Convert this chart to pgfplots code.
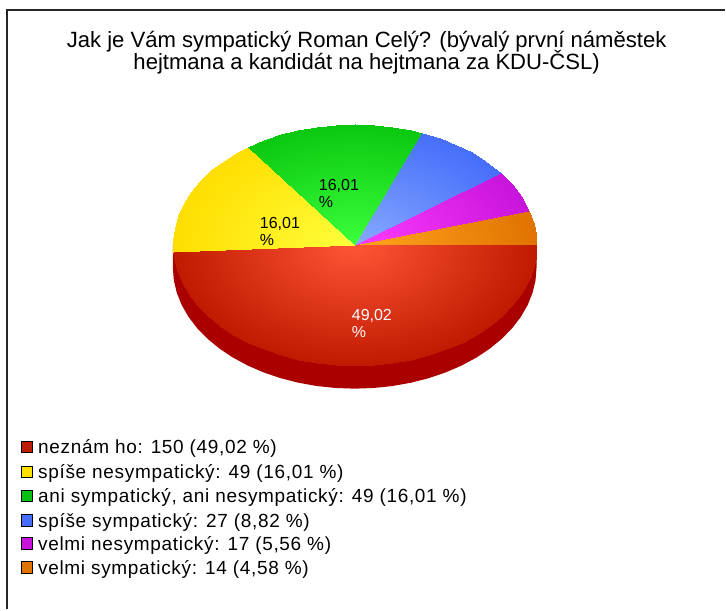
\documentclass[border=0pt]{standalone}
\usepackage{fontspec}
\setmainfont{Liberation Sans}
\usepackage{pgfplots}
\usepackage{pgfplotstable}
\pgfplotsset{compat=1.18}

% slice boundaries: a = angle clockwise from east (share * 3.6), r = 0 centre, 1 rim
\pgfplotstableread[row sep=\\]{a r\\
0 0\\0 1\\6 0\\6 1\\12 0\\12 1\\18 0\\18 1\\24 0\\24 1\\30 0\\30 1\\36 0\\36 1\\42 0\\42 1\\
48 0\\48 1\\54 0\\54 1\\60 0\\60 1\\66 0\\66 1\\72 0\\72 1\\78 0\\78 1\\84 0\\84 1\\90 0\\90 1\\
96 0\\96 1\\102 0\\102 1\\108 0\\108 1\\114 0\\114 1\\120 0\\120 1\\126 0\\126 1\\132 0\\132 1\\
138 0\\138 1\\144 0\\144 1\\150 0\\150 1\\156 0\\156 1\\162 0\\162 1\\168 0\\168 1\\174 0\\174 1\\
176.5 0\\176.5 1\\}\neznam
\pgfplotstableread[row sep=\\]{a r\\
176.5 0\\176.5 1\\182 0\\182 1\\188 0\\188 1\\194 0\\194 1\\200 0\\200 1\\206 0\\206 1\\212 0\\212 1\\
218 0\\218 1\\224 0\\224 1\\230 0\\230 1\\234.1 0\\234.1 1\\}\spisene
\pgfplotstableread[row sep=\\]{a r\\
234.1 0\\234.1 1\\240 0\\240 1\\246 0\\246 1\\252 0\\252 1\\258 0\\258 1\\264 0\\264 1\\270 0\\270 1\\
276 0\\276 1\\282 0\\282 1\\288 0\\288 1\\291.8 0\\291.8 1\\}\ani
\pgfplotstableread[row sep=\\]{a r\\
291.8 0\\291.8 1\\298 0\\298 1\\304 0\\304 1\\310 0\\310 1\\316 0\\316 1\\323.6 0\\323.6 1\\}\spise
\pgfplotstableread[row sep=\\]{a r\\
323.6 0\\323.6 1\\330 0\\330 1\\336 0\\336 1\\343.6 0\\343.6 1\\}\velmine
\pgfplotstableread[row sep=\\]{a r\\
343.6 0\\343.6 1\\350 0\\350 1\\355 0\\355 1\\360 0\\360 1\\}\velmi
% side wall, d = 1 lower edge
\pgfplotstableread[row sep=\\]{a d\\
0 0\\0 1\\6 1\\12 1\\18 1\\24 1\\30 1\\36 1\\42 1\\48 1\\54 1\\60 1\\66 1\\72 1\\78 1\\84 1\\90 1\\
96 1\\102 1\\108 1\\114 1\\120 1\\126 1\\132 1\\138 1\\144 1\\150 1\\156 1\\162 1\\168 1\\174 1\\180 1\\180 0\\}\wall

\definecolor{lred}{RGB}{190,28,0}
\definecolor{lyel}{RGB}{255,225,0}
\definecolor{lgrn}{RGB}{10,190,20}
\definecolor{lblu}{RGB}{70,110,250}
\definecolor{lmag}{RGB}{200,20,220}
\definecolor{lorg}{RGB}{225,115,0}

\pgfplotsset{
  colormap={cred}{rgb255=(255,85,55) rgb255=(192,26,0)},
  colormap={cyel}{rgb255=(255,255,60) rgb255=(255,222,0)},
  colormap={cgrn}{rgb255=(60,255,60) rgb255=(10,200,15)},
  colormap={cblu}{rgb255=(135,170,255) rgb255=(70,110,250)},
  colormap={cmag}{rgb255=(255,60,255) rgb255=(200,20,220)},
  colormap={corg}{rgb255=(255,165,30) rgb255=(225,115,0)},
}
\newcommand{\slice}[2]{\addplot[surf,shader=interp,mesh/cols=2,colormap name=#1,point meta=\thisrow{r}]
  table[x expr={355+182*\thisrow{r}*cos(\thisrow{a})},y expr={245+121*\thisrow{r}*sin(\thisrow{a})}] {#2};}
\newcommand{\swatch}[3]{\addplot[only marks,mark=square*,mark size=5.6pt,mark options={fill=#1,draw=black,line width=0.9pt}] coordinates {(27,#2)};
  \node[anchor=west,inner sep=0pt] at (axis cs:38,#2+1.5) {#3};}

\begin{document}
\begin{tikzpicture}
\begin{axis}[
    width=726pt, height=610pt, scale only axis,
    xmin=0, xmax=726, ymin=0, ymax=610, y dir=reverse,
    axis lines=none, clip=false,
    point meta min=0, point meta max=1,
    every axis plot/.append style={forget plot},
]
\path[fill=white] (axis cs:0,0) rectangle (axis cs:726,610);
\draw[line width=1.3pt,black!85] (axis cs:7,610) -- (axis cs:7,10) -- (axis cs:726,10);

\addplot[fill={rgb,255:red,170;green,0;blue,0},draw=none]
  table[x expr={355+182*cos(\thisrow{a})},y expr={245+121*sin(\thisrow{a})+23*\thisrow{d}}] {\wall} -- cycle;
\slice{cred}{\neznam}
\slice{cyel}{\spisene}
\slice{cgrn}{\ani}
\slice{cblu}{\spise}
\slice{cmag}{\velmine}
\slice{corg}{\velmi}

\node[align=center,font=\fontsize{22.1}{20.5}\selectfont] at (axis cs:367,53) {Jak je Vám sympatický Roman Celý? (bývalý první náměstek\\[-3pt]hejtmana a kandidát na hejtmana za KDU-ČSL)};

\node[anchor=north west,inner sep=0pt,align=left,font=\fontsize{16}{17}\selectfont] at (axis cs:260,217) {16,01\\\%};
\node[anchor=north west,inner sep=0pt,align=left,font=\fontsize{16}{17}\selectfont] at (axis cs:319,179) {16,01\\\%};
\node[anchor=north west,inner sep=0pt,align=left,text=white,font=\fontsize{16}{17}\selectfont] at (axis cs:352,309) {49,02\\\%};

\begin{scope}[font=\fontsize{19}{22}\selectfont\addfontfeature{LetterSpace=3.6}]
\swatch{lred}{447}{neznám ho: 150 (49,02 \%)}
\swatch{lyel}{472}{spíše nesympatický: 49 (16,01 \%)}
\swatch{lgrn}{496}{ani sympatický, ani nesympatický: 49 (16,01 \%)}
\swatch{lblu}{521}{spíše sympatický: 27 (8,82 \%)}
\swatch{lmag}{544}{velmi nesympatický: 17 (5,56 \%)}
\swatch{lorg}{568}{velmi sympatický: 14 (4,58 \%)}
\end{scope}
\end{axis}
\end{tikzpicture}
\end{document}
